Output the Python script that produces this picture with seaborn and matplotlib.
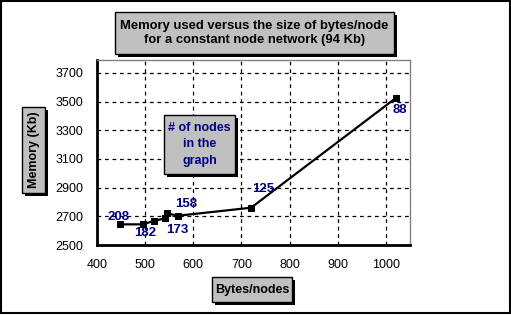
import matplotlib
matplotlib.use("Agg")
import matplotlib.pyplot as plt
from matplotlib.patches import Rectangle
import seaborn as sns
import pandas as pd

# ---- data ----
bytes_per_node = [448, 495, 519, 542, 545, 568, 720, 1021]
memory_kb = [2644, 2644, 2669, 2686, 2721, 2704, 2760, 3526]
node_labels = ["208", "182", "", "173", "158", "", "125", "88"]
x_ticks = [400, 500, 600, 700, 800, 900, 1000]
y_ticks = [2500, 2700, 2900, 3100, 3300, 3500, 3700]
title_text = "Memory used versus the size of bytes/node\nfor a constant node network (94 Kb)"
x_label = "Bytes/nodes"
y_label = "Memory (Kb)"
note_text = "# of nodes\nin the\ngraph"

df = pd.DataFrame({"bytes": bytes_per_node, "mem": memory_kb})

sns.set_style("white")
plt.rcParams["font.family"] = ["Liberation Sans", "DejaVu Sans"]

W, H = 511, 315
fig = plt.figure(figsize=(W / 100, H / 100), dpi=100)
fig.patch.set_facecolor("white")

def fx(px):
    return px / W

def fy(py):
    return 1 - py / H

ax = fig.add_axes([fx(97), fy(245), fx(410) - fx(97), fy(60) - fy(245)])
sns.lineplot(data=df, x="bytes", y="mem", ax=ax, sort=False, color="black",
             linewidth=1.6, marker="s", markersize=5, markeredgecolor="black",
             markerfacecolor="black")

ax.set_xlim(400, 1050)
ax.set_ylim(2500, 3790)
ax.set_xticks(x_ticks)
ax.set_yticks(y_ticks)
ax.set_xlabel("")
ax.set_ylabel("")
ax.tick_params(axis="both", direction="inout", length=6, width=1.2,
               labelsize=9, colors="black", pad=7)
ax.grid(True, linestyle=(0, (3, 3)), color="black", linewidth=0.9)
for side in ["left", "bottom"]:
    ax.spines[side].set_color("black")
    ax.spines[side].set_linewidth(2)
for side in ["top", "right"]:
    ax.spines[side].set_color("#808080")
    ax.spines[side].set_linewidth(1)

# data labels (offsets in points)
offsets = {"208": (-1, 5), "182": (2, -6.5), "173": (8.6, -8.6), "158": (14, 7),
           "125": (8.6, 13.7), "88": (2.5, -8.6)}
for xv, yv, lab in zip(bytes_per_node, memory_kb, node_labels):
    if not lab:
        continue
    dx, dy = offsets[lab]
    ax.annotate(lab, (xv, yv), xytext=(dx, dy), textcoords="offset points",
                ha="center", va="center", fontsize=9.5, fontweight="bold",
                color="#000080")

def box(x0, y0, x1, y1, text, color="black", fs=10, rot=0, ls=1.2):
    sh = 3
    fig.add_artist(Rectangle((fx(x0 + sh), fy(y1 + sh)), fx(x1 - x0), (y1 - y0) / H,
                             transform=fig.transFigure, facecolor="black",
                             edgecolor="none", zorder=5))
    fig.add_artist(Rectangle((fx(x0), fy(y1)), fx(x1 - x0), (y1 - y0) / H,
                             transform=fig.transFigure, facecolor="#C0C0C0",
                             edgecolor="black", linewidth=1, zorder=6))
    fig.text(fx((x0 + x1) / 2), fy((y0 + y1) / 2), text, ha="center", va="center",
             fontsize=fs, fontweight="bold", color=color, rotation=rot,
             rotation_mode="anchor", linespacing=ls, zorder=7)

box(115, 12, 394, 54, title_text, fs=9.4)
box(22, 107, 45, 193, y_label, fs=9, rot=90)
box(212, 277, 292, 302, x_label, fs=9)
box(164, 115, 235, 174, note_text, color="#000080", fs=9, ls=1.45)

# outer frame
fig.add_artist(Rectangle((fx(1), fy(313)), fx(509), 312 / H, transform=fig.transFigure,
                         facecolor="none", edgecolor="black", linewidth=1.5, zorder=10))

fig.savefig("out.png", dpi=100)
